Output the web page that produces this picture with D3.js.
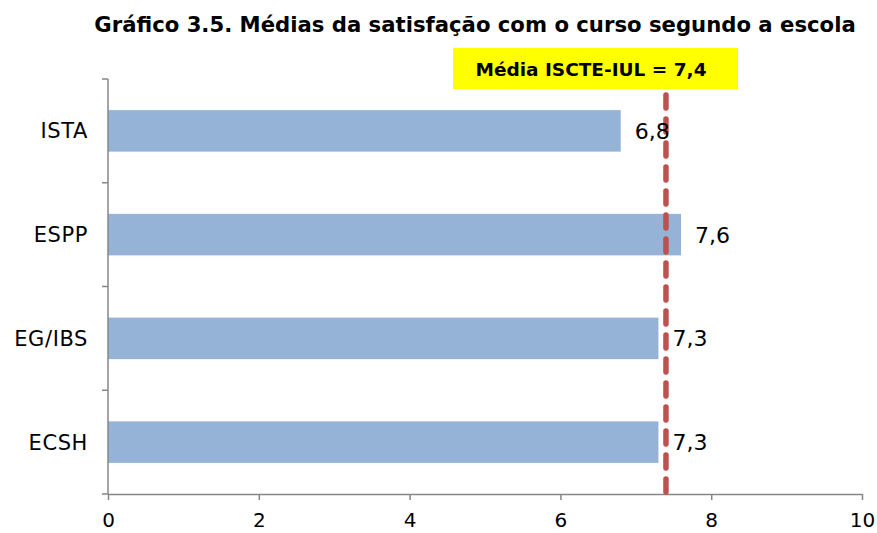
<!DOCTYPE html>
<html>
<head>
<meta charset="utf-8">
<script src="https://cdn.jsdelivr.net/npm/d3@7"></script>
<style>
  body { margin: 0; background: #fff; }
  svg { display: block; }
</style>
</head>
<body>
<div id="chart"></div>
<script>
// Data
const schools = ["ISTA", "ESPP", "EG/IBS", "ECSH"]
const means = [6.8, 7.6, 7.3, 7.3]
const overallMean = 7.4
const xTicks = [0, 2, 4, 6, 8, 10]

const width = 877, height = 533
const margin = { top: 79, right: 15, bottom: 39, left: 108 }
const plotW = 862 - margin.left
const plotH = height - margin.top - margin.bottom
const font = "Verdana, 'DejaVu Sans', sans-serif"
const axisColor = "#868686"

const svg = d3.select("#chart")
  .append("svg")
  .attr("width", width)
  .attr("height", height)

// Title
svg.append("text")
  .attr("x", 475)
  .attr("y", 32)
  .attr("text-anchor", "middle")
  .style("font-family", font)
  .style("font-weight", "bold")
  .style("font-size", "21.2px")
  .text("Gráfico 3.5. Médias da satisfação com o curso segundo a escola")

const g = svg.append("g")
  .attr("transform", `translate(${margin.left},${margin.top})`)

// Scales
const x = d3.scaleLinear().domain([0, 10]).range([0, plotW])
const y = d3.scaleBand().domain(schools).range([0, plotH]).paddingInner(0.6).paddingOuter(0.3)
const yBounds = d3.range(schools.length + 1).map(i => i * plotH / schools.length)

// Bars
g.selectAll(".bar")
  .data(schools)
  .enter()
  .append("rect")
  .attr("class", "bar")
  .attr("x", 0)
  .attr("y", d => y(d))
  .attr("width", (d, i) => x(means[i]))
  .attr("height", y.bandwidth())
  .attr("fill", "#95B3D7")

// Y axis line and boundary ticks
g.append("line")
  .attr("x1", 0).attr("x2", 0)
  .attr("y1", 0).attr("y2", plotH)
  .attr("stroke", axisColor).attr("stroke-width", 1.5)
g.selectAll(".ytick")
  .data(yBounds)
  .enter()
  .append("line")
  .attr("x1", -6).attr("x2", 0)
  .attr("y1", d => d).attr("y2", d => d)
  .attr("stroke", axisColor).attr("stroke-width", 1.5)

// Category labels
g.selectAll(".ylabel")
  .data(schools)
  .enter()
  .append("text")
  .attr("x", -20)
  .attr("y", d => y(d) + y.bandwidth() / 2)
  .attr("dy", "0.36em")
  .attr("text-anchor", "end")
  .style("font-family", font)
  .style("font-size", "21px")
  .style("letter-spacing", "0.6px")
  .text(d => d)

// X axis
const xAxis = g.append("g")
  .attr("transform", `translate(0,${plotH})`)
  .call(d3.axisBottom(x).tickValues(xTicks).tickSize(6).tickSizeOuter(0))
xAxis.select(".domain").attr("stroke", axisColor).attr("stroke-width", 1.5)
xAxis.selectAll(".tick line").attr("stroke", axisColor).attr("stroke-width", 1.5)
xAxis.selectAll(".tick text")
  .attr("y", 33)
  .attr("dy", 0)
  .style("font-family", font)
  .style("font-size", "20px")
  .attr("fill", "#000")

// Mean line
g.append("line")
  .attr("x1", x(overallMean)).attr("x2", x(overallMean))
  .attr("y1", 16).attr("y2", plotH)
  .attr("stroke", "#C0504D")
  .attr("stroke-width", 5.5)
  .attr("stroke-linecap", "round")
  .attr("stroke-dasharray", "13 11")

// Value labels
g.selectAll(".vlabel")
  .data(schools)
  .enter()
  .append("text")
  .attr("x", (d, i) => x(means[i]) + 14)
  .attr("y", d => y(d) + y.bandwidth() / 2)
  .attr("dy", "0.36em")
  .style("font-family", font)
  .style("font-size", "22px")
  .text((d, i) => String(means[i]).replace(".", ","))

// Mean annotation box
svg.append("rect")
  .attr("x", 453).attr("y", 48)
  .attr("width", 285).attr("height", 41)
  .attr("fill", "#FFFF00")
svg.append("text")
  .attr("x", 591)
  .attr("y", 76)
  .attr("text-anchor", "middle")
  .style("font-family", font)
  .style("font-weight", "bold")
  .style("font-size", "18.5px")
  .text("Média ISCTE-IUL = " + String(overallMean).replace(".", ","))
</script>
</body>
</html>
